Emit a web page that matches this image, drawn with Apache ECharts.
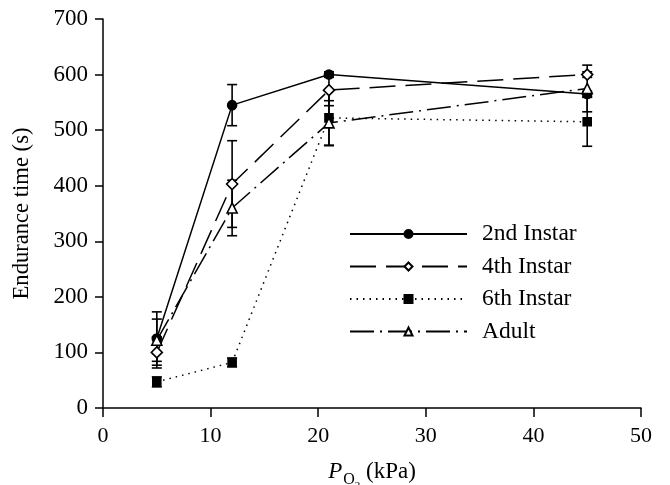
<!DOCTYPE html>
<html>
<head>
<meta charset="utf-8">
<script src="https://cdn.jsdelivr.net/npm/echarts@6/dist/echarts.min.js"></script>
<style>html,body{margin:0;padding:0;background:#fff}#c{width:670px;height:485px}</style>
</head>
<body>
<div id="c"></div>
<script>
// ---- data ----
var po2 = [5, 12, 21, 45];
var seriesNames = ['2nd Instar', '4th Instar', '6th Instar', 'Adult'];
var second = [125, 545, 600, 565];
var secondErr = [48, 37, 5, 5];
var fourth = [100, 403, 572, 600];
var fourthErr = [28, 78, 28, 5];
var sixth = [47, 82, 522, 515];
var sixthErr = [9, 8, 50, 44];
var adult = [122, 360, 513, 575];
var adultErr = [38, 50, 40, 42];
var yTicks = [0, 100, 200, 300, 400, 500, 600, 700];
var xTicks = [0, 10, 20, 30, 40, 50];

var FONT = '"Liberation Serif", "Times New Roman", serif';

function pts(vals) { return po2.map(function (x, i) { return [x, vals[i]]; }); }
function errPts(vals, errs) { return po2.map(function (x, i) { return [x, vals[i] - errs[i], vals[i] + errs[i]]; }); }

function errSeries(vals, errs) {
  return {
    type: 'custom',
    silent: true,
    z: 1,
    data: errPts(vals, errs),
    renderItem: function (params, api) {
      var x = api.value(0);
      var lo = api.coord([x, api.value(1)]);
      var hi = api.coord([x, api.value(2)]);
      var hw = 5;
      var st = { stroke: '#000', lineWidth: 1.6 };
      return {
        type: 'group',
        children: [
          { type: 'line', shape: { x1: lo[0], y1: lo[1], x2: hi[0], y2: hi[1] }, style: st },
          { type: 'line', shape: { x1: lo[0] - hw, y1: lo[1], x2: lo[0] + hw, y2: lo[1] }, style: st },
          { type: 'line', shape: { x1: hi[0] - hw, y1: hi[1], x2: hi[0] + hw, y2: hi[1] }, style: st }
        ]
      };
    }
  };
}

function lineSeries(name, vals, dash, symbol, size, filled) {
  return {
    name: name,
    type: 'line',
    z: 3,
    data: pts(vals),
    symbol: symbol,
    symbolSize: size,
    showAllSymbol: true,
    lineStyle: { color: '#000', width: 1.5, type: dash },
    itemStyle: { color: filled ? '#000' : '#fff', borderColor: '#000', borderWidth: 1.6 },
    emphasis: { disabled: true },
    animation: false
  };
}

var chart = echarts.init(document.getElementById('c'), null, { renderer: 'canvas' });
chart.setOption({
  animation: false,
  backgroundColor: '#fff',
  grid: { left: 103, right: 29, top: 19, bottom: 77, containLabel: false, outerBoundsMode: 'none' },
  xAxis: {
    type: 'value', min: 0, max: 50, interval: 10,
    axisLine: { show: true, lineStyle: { color: '#000', width: 1.5 } },
    axisTick: { show: true, inside: false, length: 9, lineStyle: { color: '#000', width: 1.5 } },
    axisLabel: { color: '#000', fontFamily: FONT, fontSize: 22, margin: 17 },
    splitLine: { show: false },
    name: '{i|P}{o|O}{t|2}{n| (kPa)}',
    nameLocation: 'middle',
    nameGap: 52,
    nameTextStyle: {
      color: '#000', fontFamily: FONT, fontSize: 23,
      rich: {
        i: { fontFamily: FONT, fontSize: 23, fontStyle: 'italic', color: '#000', verticalAlign: 'bottom', padding: [0, 1, 9, 0] },
        o: { fontFamily: FONT, fontSize: 16, color: '#000', verticalAlign: 'bottom', padding: [0, 0, 4, 0] },
        t: { fontFamily: FONT, fontSize: 11, color: '#000', verticalAlign: 'bottom', padding: [0, 0, 0, 0] },
        n: { fontFamily: FONT, fontSize: 23, color: '#000', verticalAlign: 'bottom', padding: [0, 0, 9, 0] }
      }
    }
  },
  yAxis: {
    type: 'value', min: 0, max: 700, interval: 100,
    axisLine: { show: true, lineStyle: { color: '#000', width: 1.5 } },
    axisTick: { show: true, inside: false, length: 8, lineStyle: { color: '#000', width: 1.5 } },
    axisLabel: { color: '#000', fontFamily: FONT, fontSize: 23, margin: 15 },
    splitLine: { show: false },
    name: 'Endurance time (s)',
    nameLocation: 'middle',
    nameGap: 69,
    nameTextStyle: { color: '#000', fontFamily: FONT, fontSize: 22.6 }
  },
  legend: {
    orient: 'vertical',
    left: 344, top: 217,
    itemWidth: 117, itemHeight: 10, itemGap: 8.5,
    textStyle: { color: '#000', fontFamily: FONT, fontSize: 23.5, padding: [0, 0, 0, 10] },
    data: seriesNames,
    selectedMode: false
  },
  series: [
    errSeries(second, secondErr),
    errSeries(fourth, fourthErr),
    errSeries(sixth, sixthErr),
    errSeries(adult, adultErr),
    lineSeries(seriesNames[0], second, 'solid', 'circle', 9, true),
    lineSeries(seriesNames[1], fourth, [26, 10], 'diamond', 11, false),
    lineSeries(seriesNames[2], sixth, [1.5, 5], 'rect', 8, true),
    lineSeries(seriesNames[3], adult, [24, 6, 2, 6], 'triangle', 10, false)
  ]
});
</script>
</body>
</html>
